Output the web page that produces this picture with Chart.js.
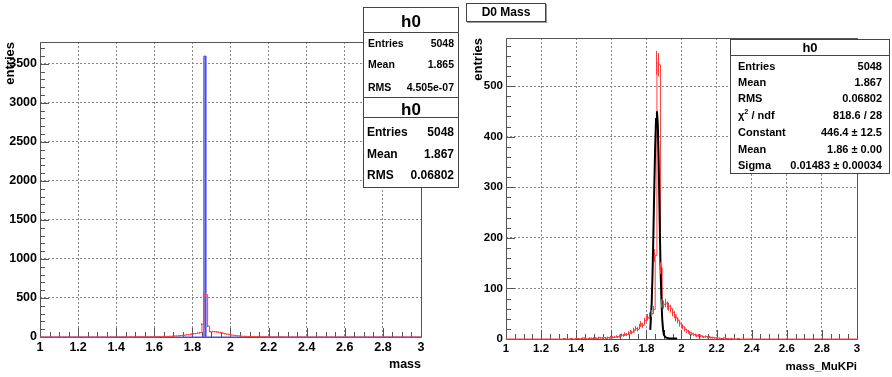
<!DOCTYPE html>
<html>
<head>
<meta charset="utf-8">
<script src="https://cdn.jsdelivr.net/npm/chart.js@4.4.0/dist/chart.umd.min.js"></script>
<style>
  body { margin: 0; background: #fff; width: 892px; height: 377px; overflow: hidden; position: relative;
         font-family: "Liberation Sans", Arial, sans-serif; font-weight: bold; color: #000; }
  canvas { position: absolute; top: 0; }
  .box { position: absolute; background: #fff; border: 1px solid #444; box-sizing: border-box; }
  .line { position: absolute; left: 0; right: 0; border-top: 1px solid #444; }
  .txt { position: absolute; white-space: nowrap; height: 20px; line-height: 20px; }
  sup { font-size: 65%; line-height: 0; }
</style>
</head>
<body>
<canvas id="massChart" width="460" height="377" style="left:0"></canvas>
<canvas id="muKPiChart" width="432" height="377" style="left:460px"></canvas>
<div class="box" style="left:466px;top:3px;width:80px;height:19px;box-shadow:1px 1px 0 #999;text-align:center;font-size:12px;line-height:17px">D0 Mass</div>

<script>
// ---- data ----
const binLow = 1.0;
const binWidth = 0.01;
// red histogram, entries per 0.01 bin from 1.00 to 3.00
const massCounts = [
  0, 0, 0, 0, 0, 0, 0, 0, 0, 0,        // 1.0
  0, 0, 0, 0, 0, 0, 0, 0, 0, 0,        // 1.1
  0, 0, 0, 0, 0, 0, 0, 0, 0, 0,        // 1.2
  0, 0, 1, 0, 0, 0, 1, 0, 0, 1,        // 1.3
  1, 0, 1, 2, 1, 0, 1, 2, 1, 2,        // 1.4
  2, 1, 3, 2, 2, 3, 1, 3, 2, 4,        // 1.5
  3, 4, 5, 4, 6, 8, 7, 10, 9, 12,      // 1.6
  14, 13, 18, 21, 19, 25, 30, 27, 36, 40,   // 1.7
  43, 46, 50, 58, 165, 546, 542, 140, 70, 68, // 1.8
  71, 66, 64, 60, 52, 48, 41, 37, 30, 26,   // 1.9
  24, 19, 16, 14, 12, 10, 9, 8, 6, 7,  // 2.0
  6, 5, 4, 5, 3, 4, 2, 3, 2, 2,        // 2.1
  2, 1, 1, 2, 0, 1, 0, 1, 0, 0,        // 2.2
  0, 1, 0, 0, 0, 0, 0, 0, 0, 0,        // 2.3
  0, 0, 0, 0, 0, 0, 0, 0, 0, 0,        // 2.4
  0, 0, 0, 0, 0, 0, 0, 0, 0, 0,        // 2.5
  0, 0, 0, 0, 0, 0, 0, 0, 0, 0,        // 2.6
  0, 0, 0, 0, 0, 0, 0, 0, 0, 0,        // 2.7
  0, 0, 0, 0, 0, 0, 0, 0, 0, 0,        // 2.8
  0, 0, 0, 0, 0, 0, 0, 0, 0, 0         // 2.9
];
// blue histogram: single filled bin
const narrowBins = [1.86];
const narrowCounts = [3600];
// gaussian fit curve (black)
const fitX = [1.822, 1.83, 1.835, 1.84, 1.845, 1.85, 1.855, 1.86, 1.865, 1.87, 1.875, 1.88, 1.885, 1.89, 1.895, 1.9, 1.91, 1.93, 1.975];
const fitY = [18, 70, 130, 210, 300, 380, 435, 450, 425, 350, 250, 150, 85, 40, 18, 8, 3, 1, 1];

const xTicks = [1, 1.2, 1.4, 1.6, 1.8, 2, 2.2, 2.4, 2.6, 2.8, 3];
const yTicksMass = [0, 500, 1000, 1500, 2000, 2500, 3000, 3500];
const yTicksMuKPi = [0, 100, 200, 300, 400, 500];

const statsNarrow = [['Entries', '5048'], ['Mean', '1.865'], ['RMS', '4.505e-07']];
const statsWide = [['Entries', '5048'], ['Mean', '1.867'], ['RMS', '0.06802']];
const statsFit = [['Entries', '5048'], ['Mean', '1.867'], ['RMS', '0.06802'], ['&chi;<sup>2</sup> / ndf', '818.6 / 28'],
                  ['Constant', '446.4 &plusmn; 12.5'], ['Mean', '1.86 &plusmn; 0.00'], ['Sigma', '0.01483 &plusmn; 0.00034']];

// ---- helpers ----
// points at bin upper edges, step drawn horizontally first
function histPoints(counts) {
  const pts = [{x: binLow, y: counts[0]}];
  counts.forEach((c, i) => pts.push({x: binLow + (i + 1) * binWidth, y: c}));
  return pts;
}
function sparsePoints(bins, counts) {
  const pts = [{x: 1, y: 0}];
  bins.forEach((b, i) => {
    pts.push({x: b, y: 0});
    pts.push({x: b, y: counts[i]});
    pts.push({x: b + binWidth, y: counts[i]});
    pts.push({x: b + binWidth, y: 0});
  });
  pts.push({x: 3, y: 0});
  return pts;
}

// frame + ROOT-like inward tick marks
const frameTicks = {
  id: 'frameTicks',
  beforeDatasetsDraw(chart, args, opts) {
    const {ctx, chartArea: a, scales: {x, y}} = chart;
    ctx.save();
    ctx.strokeStyle = '#555';
    ctx.lineWidth = 1;
    ctx.beginPath();
    ctx.rect(Math.round(a.left) + 0.5, Math.round(a.top) + 0.5, Math.round(a.right - a.left), Math.round(a.bottom - a.top));
    const xs = (xTicks[1] - xTicks[0]) / opts.xDiv;
    for (let k = 0; x.min + k * xs <= x.max + 1e-9; k++) {
      const px = Math.round(x.getPixelForValue(x.min + k * xs)) + 0.5;
      const len = k % opts.xDiv === 0 ? 9 : 5;
      ctx.moveTo(px, a.bottom); ctx.lineTo(px, a.bottom - len);
    }
    const yt = opts.yTicks;
    const ys = (yt[1] - yt[0]) / opts.yDiv;
    for (let k = 0; k * ys <= y.max; k++) {
      const py = Math.round(y.getPixelForValue(k * ys)) + 0.5;
      const len = k % opts.yDiv === 0 ? 9 : 5;
      ctx.moveTo(a.left, py); ctx.lineTo(a.left + len, py);
    }
    ctx.stroke();
    ctx.restore();
  },
  // statistical error bars for histograms flagged with errorBars
  afterDatasetsDraw(chart) {
    const {ctx, scales: {x, y}} = chart;
    ctx.save();
    chart.data.datasets.forEach(ds => {
      if (!ds.errorBars) return;
      ctx.strokeStyle = ds.borderColor;
      ctx.lineWidth = 1;
      ctx.beginPath();
      ds.errorBars.forEach((c, i) => {
        if (c <= 0) return;
        const px = Math.round(x.getPixelForValue(binLow + (i + 0.5) * binWidth)) + 0.5;
        const e = Math.sqrt(c);
        ctx.moveTo(px, y.getPixelForValue(c - e));
        ctx.lineTo(px, y.getPixelForValue(c + e));
      });
      ctx.stroke();
    });
    ctx.restore();
  }
};

function axes(yMax, yTicks, yWidth, xHeight, font, xTitle, yTitlePad, xTitlePad) {
  const tickFont = {family: 'Liberation Sans', weight: 'bold', size: font};
  return {
    x: {
      type: 'linear', min: 1, max: 3,
      afterBuildTicks: s => { s.ticks = xTicks.map(v => ({value: v})); },
      afterFit: s => { s.height = xHeight; },
      ticks: {callback: v => String(Math.round(v * 10) / 10), font: tickFont, color: '#000', padding: 3, maxRotation: 0, autoSkip: false},
      grid: {color: '#888', drawTicks: false},
      border: {display: false, dash: [2, 2]},
      title: {display: true, text: xTitle, align: 'end', color: '#000',
              font: {family: 'Liberation Sans', weight: 'bold', size: xTitle === 'mass' ? 12.5 : 11.5},
              padding: {top: 0, bottom: xTitlePad}}
    },
    y: {
      type: 'linear', min: 0, max: yMax,
      afterBuildTicks: s => { s.ticks = yTicks.map(v => ({value: v})); },
      afterFit: s => { s.width = yWidth; },
      ticks: {callback: v => String(v), font: tickFont, color: '#000', padding: 3},
      grid: {color: '#888', drawTicks: false},
      border: {display: false, dash: [2, 2]},
      title: {display: true, text: 'entries', align: 'end', color: '#000',
              font: {family: 'Liberation Sans', weight: 'bold', size: 13},
              padding: {top: yTitlePad, bottom: 0}}
    }
  };
}

const common = {
  responsive: false,
  animation: false,
  events: [],
  plugins: {legend: {display: false}, tooltip: {enabled: false}},
  elements: {point: {radius: 0}, line: {tension: 0}}
};

new Chart(document.getElementById('massChart'), {
  type: 'line',
  data: {
    datasets: [
      {data: histPoints(massCounts), stepped: 'before', borderColor: '#ff3a3a', borderWidth: 1, clip: false, errorBars: massCounts},
      {data: sparsePoints(narrowBins, narrowCounts), borderColor: '#4a4af0', borderWidth: 1,
       backgroundColor: 'rgba(125,125,250,0.8)', fill: 'origin', clip: false}
    ]
  },
  options: Object.assign({}, common, {
    layout: {padding: {top: 42, right: 39, left: 0, bottom: 0}},
    scales: axes(3780, yTicksMass, 40, 40, 12.5, 'mass', 3, 4.5),
    plugins: Object.assign({}, common.plugins, {frameTicks: {xDiv: 4, yDiv: 5, yTicks: yTicksMass}})
  }),
  plugins: [frameTicks]
});

new Chart(document.getElementById('muKPiChart'), {
  type: 'line',
  data: {
    datasets: [
      {data: fitX.map((v, i) => ({x: v, y: fitY[i]})), borderColor: '#000', borderWidth: 2, clip: false},
      {data: histPoints(massCounts), stepped: 'before', borderColor: '#ff3a3a', borderWidth: 1, clip: false, errorBars: massCounts}
    ]
  },
  options: Object.assign({}, common, {
    layout: {padding: {top: 38, right: 35, left: 0, bottom: 0}},
    scales: axes(595, yTicksMuKPi, 46, 38, 11.5, 'mass_MuKPi', 11, 3.4),
    plugins: Object.assign({}, common.plugins, {frameTicks: {xDiv: 4, yDiv: 5, yTicks: yTicksMuKPi}})
  }),
  plugins: [frameTicks]
});

// ---- stat boxes ----
function statBox(left, top, width, height, titleSize, titleMid, lineY, rows, rowMids, fontSize, padL, padR) {
  const box = document.createElement('div');
  box.className = 'box';
  Object.assign(box.style, {left: left + 'px', top: top + 'px', width: width + 'px', height: height + 'px'});
  let html = '<div class="txt" style="left:0;right:0;text-align:center;font-size:' + titleSize + 'px;top:' + (titleMid - 10) + 'px">h0</div>';
  html += '<div class="line" style="top:' + lineY + 'px"></div>';
  rows.forEach((r, i) => {
    const t = rowMids[i] - 10;
    html += '<div class="txt" style="left:' + padL + 'px;top:' + t + 'px;font-size:' + fontSize + 'px">' + r[0] + '</div>';
    html += '<div class="txt" style="right:' + padR + 'px;top:' + t + 'px;font-size:' + fontSize + 'px">' + r[1] + '</div>';
  });
  box.innerHTML = html;
  document.body.appendChild(box);
}
statBox(363, 7, 96, 91, 17, 14, 24, statsNarrow, [35, 56, 79], 10.5, 4, 4);
statBox(363, 97, 96, 91, 17, 12, 19, statsWide, [34, 56, 77], 12, 3, 4);
statBox(730, 39, 160, 135, 13, 8, 15, statsFit, [26, 42, 58, 74.5, 92, 109, 125], 11, 7, 7);
</script>
</body>
</html>
